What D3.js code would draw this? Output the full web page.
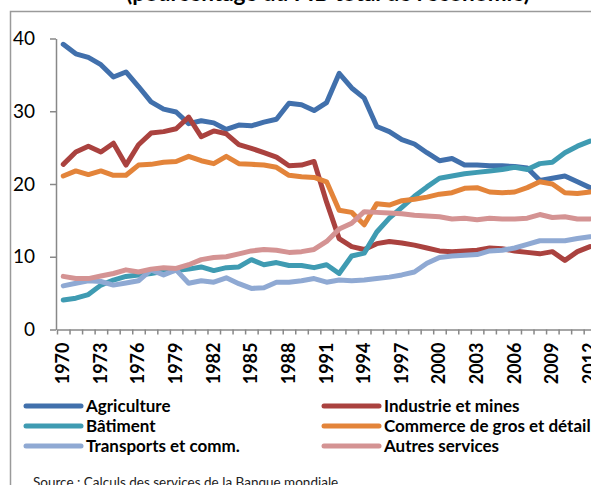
<!DOCTYPE html>
<html>
<head>
<meta charset="utf-8">
<script src="https://cdn.jsdelivr.net/npm/d3@7/dist/d3.min.js"></script>
<style>
  html, body { margin: 0; padding: 0; background: #fff; }
  svg { display: block; }
  text { font-family: Lato, "Noto Sans", sans-serif; }
</style>
</head>
<body>
<svg id="chart" width="591" height="485"></svg>
<script>
// Years on the category axis
const years = d3.range(1970, 2013);
const yearLabels = d3.range(1970, 2013, 3);
const yTicks = [0, 10, 20, 30, 40];

// Sector shares (%), one value per year 1970–2012
const agriculture = [39.2, 37.9, 37.4, 36.4, 34.7, 35.4, 33.4, 31.3, 30.3, 29.9,
  28.3, 28.7, 28.4, 27.5, 28.1, 28.0, 28.5, 28.9, 31.1, 30.9,
  30.1, 31.2, 35.2, 33.2, 31.8, 27.9, 27.2, 26.1, 25.5, 24.3,
  23.2, 23.5, 22.6, 22.6, 22.5, 22.5, 22.4, 22.2, 20.5, 20.8,
  21.1, 20.3, 19.5];
const industrie = [22.7, 24.4, 25.2, 24.4, 25.6, 22.6, 25.4, 27.0, 27.2, 27.6,
  29.2, 26.5, 27.3, 26.9, 25.4, 24.9, 24.3, 23.7, 22.5, 22.6,
  23.1, 17.5, 12.5, 11.4, 11.0, 11.8, 12.1, 11.9, 11.6, 11.2,
  10.8, 10.7, 10.8, 10.9, 11.2, 11.1, 10.8, 10.6, 10.4, 10.7,
  9.5, 10.7, 11.4];
const batiment = [4.05, 4.3, 4.8, 6.1, 6.8, 7.3, 7.5, 7.7, 8.0, 8.1,
  8.3, 8.6, 8.1, 8.5, 8.6, 9.6, 8.9, 9.2, 8.8, 8.8,
  8.5, 8.9, 7.7, 10.1, 10.5, 13.4, 15.3, 16.8, 18.3, 19.6,
  20.8, 21.1, 21.4, 21.6, 21.8, 22.0, 22.3, 22.0, 22.8, 23.0,
  24.3, 25.2, 25.9];
const commerce = [21.1, 21.8, 21.3, 21.8, 21.2, 21.2, 22.6, 22.7, 23.0, 23.1,
  23.8, 23.2, 22.8, 23.8, 22.8, 22.7, 22.6, 22.3, 21.2, 21.0,
  20.9, 20.3, 16.4, 16.1, 14.4, 17.3, 17.1, 17.7, 17.9, 18.2,
  18.6, 18.8, 19.4, 19.5, 18.9, 18.8, 18.9, 19.5, 20.3, 20.0,
  18.8, 18.7, 18.9];
const transports = [6.0, 6.35, 6.7, 6.6, 6.1, 6.4, 6.7, 8.2, 7.5, 8.2,
  6.35, 6.7, 6.5, 7.1, 6.3, 5.65, 5.75, 6.5, 6.5, 6.7,
  7.0, 6.5, 6.8, 6.7, 6.8, 7.0, 7.2, 7.5, 7.9, 9.1,
  9.9, 10.1, 10.2, 10.3, 10.8, 10.9, 11.2, 11.7, 12.2, 12.2,
  12.2, 12.5, 12.75];
const autres = [7.3, 7.0, 7.0, 7.35, 7.7, 8.2, 7.9, 8.3, 8.5, 8.4,
  8.9, 9.6, 9.9, 10.0, 10.4, 10.8, 11.0, 10.9, 10.6, 10.7,
  11.0, 12.1, 13.8, 14.6, 16.2, 16.1, 16.0, 15.9, 15.7, 15.6,
  15.5, 15.2, 15.3, 15.1, 15.3, 15.2, 15.2, 15.3, 15.8, 15.4,
  15.5, 15.2, 15.2];

const seriesNames = ["Agriculture", "Industrie et mines", "Bâtiment",
  "Commerce de gros et détail", "Transports et comm.", "Autres services"];
const seriesValues = [agriculture, industrie, batiment, commerce, transports, autres];
const seriesColors = ["#4170ac", "#aa423f", "#3f9bb2", "#e3843a", "#8fa9d3", "#d49393"];

const svg = d3.select("#chart");

// Outer chart frame
svg.append("rect")
  .attr("x", 10.5).attr("y", 11.5)
  .attr("width", 700).attr("height", 600)
  .attr("fill", "none").attr("stroke", "#9a9a9a").attr("stroke-width", 1.5);

// Title (its upper part lies above the page edge)
svg.append("text")
  .attr("x", 328).attr("y", 0.5)
  .attr("text-anchor", "middle")
  .attr("font-weight", 700).attr("font-size", 22.5)
  .text("(pourcentage du PIB total de l'économie)");

// Scales: categories span [year-0.5, year+0.5]
const x = d3.scaleLinear().domain([1969.5, 2012.5]).range([57, 57 + 43 * 12.54]);
const y = d3.scaleLinear().domain([0, 40]).range([329.5, 38.5]);

// Y axis
const yAxis = svg.append("g")
  .attr("transform", `translate(${x(1969.5) - 1},0)`)
  .call(d3.axisLeft(y).tickValues(yTicks).tickSize(6).tickPadding(15).tickSizeOuter(0));
yAxis.select(".domain").attr("stroke", "#888").attr("stroke-width", 1.5);
yAxis.selectAll(".tick line").attr("stroke", "#888").attr("stroke-width", 1.5);
yAxis.selectAll(".tick text")
  .attr("font-family", "Lato, 'Noto Sans', sans-serif")
  .attr("font-size", 19).attr("fill", "#000");

// X axis: ticks between categories, labels every 3 years
const bounds = d3.range(1969.5, 2013, 1);
const xAxis = svg.append("g")
  .attr("transform", `translate(0,${y(0)})`)
  .call(d3.axisBottom(x).tickValues(bounds).tickSize(5).tickFormat("").tickSizeOuter(0));
xAxis.select(".domain").attr("stroke", "#888").attr("stroke-width", 1.5);
xAxis.selectAll(".tick line").attr("stroke", "#888").attr("stroke-width", 1.5);

svg.append("g").selectAll("text")
  .data(yearLabels)
  .join("text")
  .attr("transform", d => `translate(${x(d) - 0.5},${y(0) + 13}) rotate(-90)`)
  .attr("text-anchor", "end")
  .attr("dy", "0.36em")
  .attr("font-weight", 700).attr("font-size", 18)
  .text(d => d);

// Lines
const line = d3.line()
  .x((d, i) => x(years[i]))
  .y(d => y(d));

svg.append("g").selectAll("path")
  .data(seriesValues)
  .join("path")
  .attr("d", d => line(d))
  .attr("fill", "none")
  .attr("stroke", (d, i) => seriesColors[i])
  .attr("stroke-width", 5)
  .attr("stroke-linejoin", "round")
  .attr("stroke-linecap", "round");

// Legend: two columns, three rows
const legend = svg.append("g");
const legItems = legend.selectAll("g")
  .data(seriesNames)
  .join("g")
  .attr("transform", (d, i) => `translate(${i % 2 === 0 ? 26 : 324},${406 + Math.floor(i / 2) * 20})`);
legItems.append("line")
  .attr("x1", 0).attr("x2", 55).attr("y1", 0).attr("y2", 0)
  .attr("stroke", (d, i) => seriesColors[i])
  .attr("stroke-width", 5).attr("stroke-linecap", "round");
legItems.append("text")
  .attr("x", 60).attr("dy", "0.36em")
  .attr("font-weight", 700).attr("font-size", 17)
  .text(d => d);

// Source note
svg.append("text")
  .attr("x", 33).attr("y", 487)
  .attr("font-size", 13.5).attr("fill", "#222")
  .text("Source : Calculs des services de la Banque mondiale");
</script>
</body>
</html>
